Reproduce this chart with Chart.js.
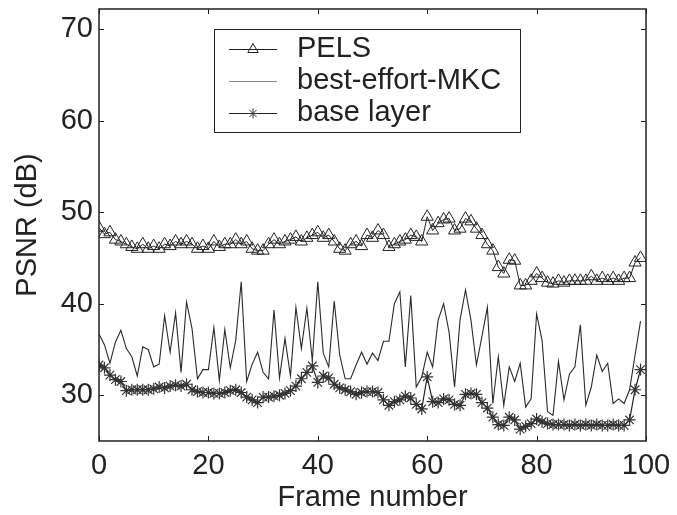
<!DOCTYPE html>
<html>
<head>
<meta charset="utf-8">
<script src="https://cdn.jsdelivr.net/npm/chart.js@4.4.1/dist/chart.umd.min.js"></script>
<style>
    html, body { margin: 0; padding: 0; background: #ffffff; }
    #wrap { width: 677px; height: 515px; }
</style>
</head>
<body>
<div id="wrap"><canvas id="chart-psnr" width="677" height="515"></canvas></div>
<script>
//------------------------------------------------ DATA ------------------------------------------------
const frames = Array.from({ length: 100 }, (_, i) => i);

const pels = [
    48.3, 47.6, 47.8, 47.0, 46.8, 46.5, 46.2, 46.0, 46.5, 46.0,
    46.3, 46.0, 46.5, 46.3, 46.8, 46.5, 46.8, 46.5, 46.0, 46.3,
    46.0, 46.8, 46.2, 46.5, 46.5, 47.0, 46.5, 46.8, 46.0, 45.8,
    45.8, 46.5, 47.0, 46.5, 46.8, 47.0, 47.3, 46.8, 47.2, 47.5,
    47.8, 47.2, 47.5, 46.8, 46.0, 45.8, 46.5, 46.8, 46.3, 47.5,
    47.2, 48.0, 47.5, 46.2, 46.5, 46.8, 47.0, 47.5, 47.3, 46.8,
    49.5, 48.0, 48.8, 49.2, 49.3, 48.0, 48.2, 49.3, 49.0, 48.2,
    47.5, 46.5, 45.8, 44.0, 43.3, 44.8, 44.7, 42.0, 42.0, 42.5,
    43.3, 42.8, 42.3, 42.2, 42.5, 42.3, 42.5, 42.5, 42.5, 42.5,
    43.0, 42.5, 42.8, 42.5, 42.8, 42.5, 42.8, 42.8, 44.5, 45.0
];

const bestEffortMKC = [
    36.7, 35.5, 33.5, 35.8, 37.1, 35.1, 34.2, 32.1, 35.3, 35.0,
    33.1, 33.4, 38.7, 34.7, 39.0, 32.5, 40.2, 37.3, 31.8, 32.8,
    32.8, 37.4, 31.6, 37.2, 33.0, 36.0, 42.4, 31.5, 33.4, 34.7,
    32.5, 31.8, 39.3, 31.9, 36.2, 32.1, 39.6, 35.1, 39.5, 33.8,
    42.4, 34.6, 33.1, 40.3, 34.4, 31.8, 31.8, 33.3, 34.7, 33.4,
    34.6, 33.8, 35.9, 35.9, 40.0, 41.3, 33.1, 40.9, 30.9, 32.0,
    34.7, 33.1, 38.2, 40.0, 36.9, 30.9, 38.2, 41.5, 38.2, 33.3,
    36.4, 39.6, 29.1, 34.2, 28.9, 33.1, 31.5, 33.5, 28.7, 29.6,
    38.9, 36.0, 28.2, 27.8, 33.7, 29.5, 32.3, 33.1, 37.7, 28.9,
    30.9, 34.4, 32.6, 33.5, 29.1, 29.6, 29.1, 30.6, 34.4, 38.1
];

const baseLayer = [
    33.3, 33.0, 32.2, 31.7, 31.5, 30.5, 30.6, 30.6, 30.6, 30.6,
    30.7, 30.9, 30.8, 31.0, 31.1, 31.0, 31.2, 30.6, 30.4, 30.3,
    30.3, 30.2, 30.2, 30.3, 30.5, 30.6, 30.3, 29.8, 29.5, 29.2,
    29.8, 29.8, 29.9, 30.0, 30.2, 30.5, 31.0, 31.8, 32.5, 33.2,
    31.4, 32.1, 31.9, 31.2, 30.8, 30.6, 30.4, 30.1, 30.3, 30.4,
    30.4, 30.3, 29.5, 28.9, 29.3, 29.5, 29.9, 29.7, 29.0, 28.5,
    32.0, 29.3, 29.2, 29.6, 29.5, 29.0, 28.9, 30.1, 30.2, 30.1,
    29.2, 28.6, 27.6, 26.8, 26.7, 27.6, 27.3, 26.3, 26.6, 26.9,
    27.4, 27.1, 26.9, 26.8, 26.8, 26.8, 26.7, 26.8, 26.7, 26.8,
    26.7, 26.8, 26.7, 26.7, 26.8, 26.7, 26.7, 27.3, 30.6, 32.8
];

const seriesNames = ['PELS', 'best-effort-MKC', 'base layer'];
const xTicks = [0, 20, 40, 60, 80, 100];
const yTicks = [30, 40, 50, 60, 70];

//------------------------------------------------ STYLE ------------------------------------------------
const FONT = "'Liberation Sans', Arial, sans-serif";
const INK = '#222222';

function toPoints(values) {
    return frames.map((f, i) => ({ x: f, y: values[i] }));
}

// inward tick marks on all four sides + box (matlab look)
const frameTicks = {
    id: 'frameTicks',
    afterDraw(chart) {
        const ctx = chart.ctx;
        const a = chart.chartArea;
        const xs = chart.scales.x, ys = chart.scales.y;
        const len = 5;
        ctx.save();
        ctx.strokeStyle = INK;
        ctx.lineWidth = 1;
        ctx.beginPath();
        xTicks.forEach(v => {
            const px = Math.round(xs.getPixelForValue(v)) + 0.5;
            ctx.moveTo(px, a.bottom); ctx.lineTo(px, a.bottom - len);
            ctx.moveTo(px, a.top); ctx.lineTo(px, a.top + len);
        });
        yTicks.forEach(v => {
            const py = Math.round(ys.getPixelForValue(v)) + 0.5;
            ctx.moveTo(a.left, py); ctx.lineTo(a.left + len, py);
            ctx.moveTo(a.right, py); ctx.lineTo(a.right - len, py);
        });
        ctx.stroke();
        ctx.lineWidth = 1.5;
        ctx.strokeRect(a.left, a.top, a.right - a.left, a.bottom - a.top);
        ctx.restore();
    }
};

// boxed legend drawn like the matlab one
const boxLegend = {
    id: 'boxLegend',
    afterDraw(chart) {
        const ctx = chart.ctx;
        const box = { x: 214.5, y: 29.5, w: 306, h: 103 };
        const rows = [49, 81, 113];
        ctx.save();
        ctx.fillStyle = '#ffffff';
        ctx.fillRect(box.x, box.y, box.w, box.h);
        ctx.strokeStyle = INK;
        ctx.lineWidth = 1;
        ctx.strokeRect(box.x, box.y, box.w, box.h);
        chart.data.datasets.forEach((ds, i) => {
            const y = rows[i] + 0.5;
            ctx.strokeStyle = i === 1 ? '#8a8a8a' : ds.borderColor;
            ctx.lineWidth = 1;
            ctx.beginPath();
            ctx.moveTo(229, y); ctx.lineTo(277, y);
            ctx.stroke();
            if (ds.pointStyle && ds.pointRadius > 0) {
                ctx.strokeStyle = ds.pointBorderColor;
                ctx.fillStyle = 'rgba(0,0,0,0)';
                ctx.lineWidth = 1;
                Chart.helpers.drawPoint(ctx, {
                    pointStyle: ds.pointStyle,
                    radius: i === 0 ? 6 : 5,
                    borderWidth: 1,
                    rotation: 0
                }, 253, y);
            }
            ctx.fillStyle = INK;
            ctx.font = '29px ' + FONT;
            ctx.textBaseline = 'middle';
            ctx.textAlign = 'left';
            ctx.fillText(ds.label, 297, rows[i]);
        });
        ctx.restore();
    }
};

//------------------------------------------------ CHART ------------------------------------------------
var ctxPsnr = document.getElementById('chart-psnr').getContext('2d');
var chart_psnr = new Chart(ctxPsnr, {
    type: 'line',
    data: {
        datasets: [
            {
                label: seriesNames[0],
                data: toPoints(pels),
                borderColor: INK,
                borderWidth: 1,
                pointStyle: 'triangle',
                pointRadius: 7,
                pointBorderColor: INK,
                pointBackgroundColor: 'rgba(0,0,0,0)',
                pointBorderWidth: 1,
                fill: false,
                tension: 0
            },
            {
                label: seriesNames[1],
                data: toPoints(bestEffortMKC),
                borderColor: '#2a2a2a',
                borderWidth: 1.1,
                pointRadius: 0,
                fill: false,
                tension: 0
            },
            {
                label: seriesNames[2],
                data: toPoints(baseLayer),
                borderColor: INK,
                borderWidth: 1.2,
                pointStyle: 'star',
                pointRadius: 6,
                pointBorderColor: '#333333',
                pointBackgroundColor: 'rgba(0,0,0,0)',
                pointBorderWidth: 1.2,
                fill: false,
                tension: 0
            }
        ]
    },
    options: {
        responsive: false,
        animation: false,
        devicePixelRatio: 1,
        layout: { padding: { top: 9, right: 31, left: 0, bottom: 0 } },
        plugins: {
            legend: { display: false },
            tooltip: { enabled: false }
        },
        scales: {
            x: {
                type: 'linear',
                min: 0,
                max: 100,
                grid: { display: false, drawTicks: false },
                border: { display: false },
                afterBuildTicks: s => { s.ticks = xTicks.map(v => ({ value: v })); },
                afterFit: s => { s.height = 74; s.paddingLeft = 0; s.paddingRight = 0; },
                ticks: {
                    padding: 8,
                    color: INK,
                    font: { family: FONT, size: 29 },
                    maxRotation: 0
                },
                title: {
                    display: true,
                    text: 'Frame number',
                    color: INK,
                    font: { family: FONT, size: 29 },
                    padding: { top: 0, bottom: 0 }
                }
            },
            y: {
                min: 25,
                max: 72.2,
                grid: { display: false, drawTicks: false },
                border: { display: false },
                afterBuildTicks: s => { s.ticks = yTicks.map(v => ({ value: v })); },
                afterFit: s => { s.width = 99; s.paddingTop = 0; s.paddingBottom = 0; },
                ticks: {
                    padding: 6,
                    color: INK,
                    font: { family: FONT, size: 29 }
                },
                title: {
                    display: true,
                    text: 'PSNR (dB)',
                    color: INK,
                    font: { family: FONT, size: 29 },
                    padding: { top: 11, bottom: 0 }
                }
            }
        }
    },
    plugins: [frameTicks, boxLegend]
});
</script>
</body>
</html>
